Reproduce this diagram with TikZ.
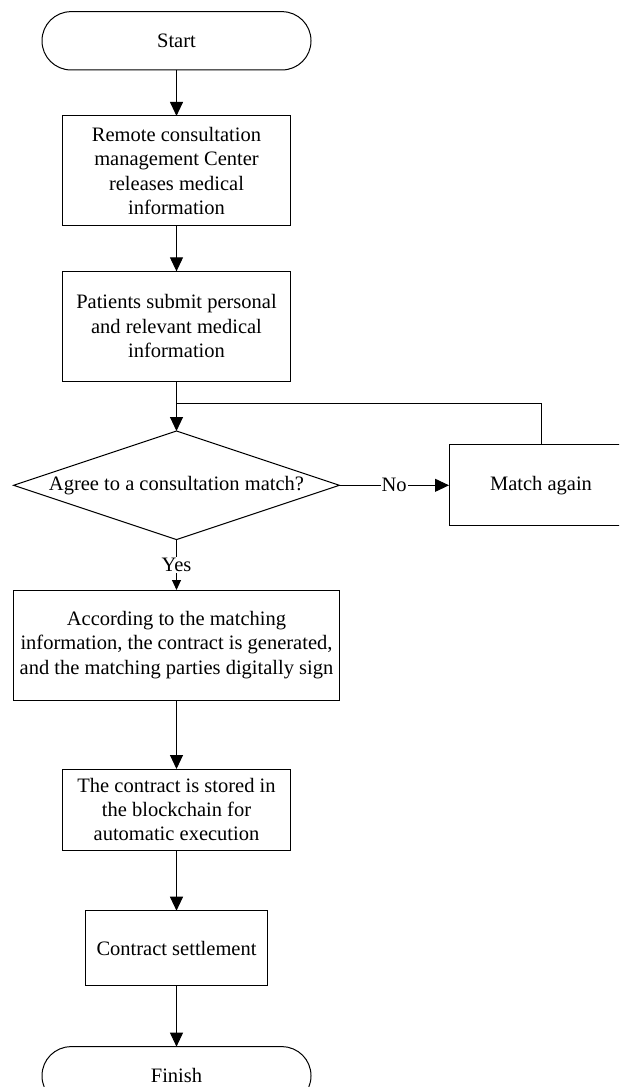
\documentclass[tikz,border=0pt]{standalone}
\usepackage{fontspec}
\setmainfont{Liberation Serif}
\usetikzlibrary{shapes.geometric,arrows.meta}
\begin{document}
\begin{tikzpicture}[x=1pt,y=-1pt,
  every node/.style={font=\fontsize{20.5}{24.4}\selectfont, align=center},
  box/.style={draw, line width=1pt, rectangle, inner sep=0pt, outer sep=0pt},
  term/.style={box, rounded corners=29pt},
  conn/.style={line width=1pt, -{Triangle[length=14pt,width=13pt]}},
  connsmall/.style={line width=1pt, -{Triangle[length=10pt,width=9pt]}},
  lab/.style={fill=white, inner sep=1pt}]
\clip (0,0) rectangle (619,1087);
\fill[white] (0,0) rectangle (619,1087);
\node[term, minimum width=269pt, minimum height=58.3pt] (start) at (176.5,40.8) {Start};
\node[box, minimum width=228pt, minimum height=109.7pt] (b1) at (176.5,170.8) {Remote consultation\\management Center\\releases medical\\information};
\node[box, minimum width=228pt, minimum height=109.7pt] (b2) at (176.5,326.2) {Patients submit personal\\and relevant medical\\information};
\node[diamond, draw, line width=1pt, inner sep=0pt, outer sep=0pt, minimum width=325.7pt, minimum height=108.6pt] (dec) at (176.5,485.3) {};
\node at (dec.center) {Agree to a consultation match?};
\node[box, minimum width=184pt, minimum height=80.7pt] (ma) at (541,485.3) {Match again};
\node[box, minimum width=326.5pt, minimum height=110pt] (b3) at (176.5,645) {According to the matching\\information, the contract is generated,\\and the matching parties digitally sign};
\node[box, minimum width=228pt, minimum height=81pt] (b4) at (176.5,809.5) {The contract is stored in\\the blockchain for\\automatic execution};
\node[box, minimum width=182.7pt, minimum height=75pt] (b5) at (176.5,948.2) {Contract settlement};
\node[term, minimum width=269pt, minimum height=58.3pt] (fin) at (176.5,1075.8) {Finish};
\coordinate (j) at (176.5,403.3);
\draw[conn] (start.south) -- (b1.north);
\draw[conn] (b1.south) -- (b2.north);
\draw[conn] (b2.south) -- (dec.north);
\draw[line width=1pt] (ma.north) |- (j);
\draw[conn] (dec.east) -- node[lab] {No} (ma.west);
\draw[connsmall] (dec.south) -- node[lab] {Yes} (b3.north);
\draw[conn] (b3.south) -- (b4.north);
\draw[conn] (b4.south) -- (b5.north);
\draw[conn] (b5.south) -- (fin.north);
\end{tikzpicture}
\end{document}
